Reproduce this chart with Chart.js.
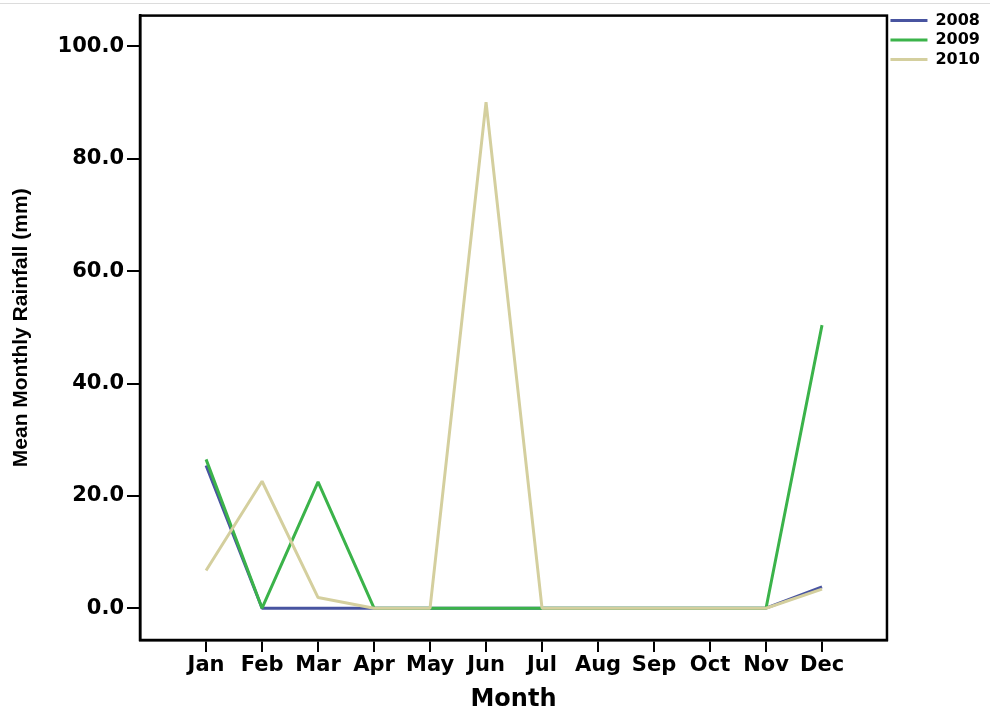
<!DOCTYPE html>
<html>
<head>
<meta charset="utf-8">
<script src="https://cdn.jsdelivr.net/npm/chart.js@4/dist/chart.umd.min.js"></script>
<style>
  html, body { margin: 0; padding: 0; background: #ffffff; }
  #wrap { width: 990px; height: 715px; position: relative; }
</style>
</head>
<body>
<div id="wrap"><canvas id="c" width="990" height="715"></canvas></div>
<script>
// Months on the x axis
const months = ['Jan', 'Feb', 'Mar', 'Apr', 'May', 'Jun', 'Jul', 'Aug', 'Sep', 'Oct', 'Nov', 'Dec'];

// Mean monthly rainfall (mm) per year
const rain2008 = [25.4, 0, 0, 0, 0, 0, 0, 0, 0, 0, 0, 3.8];
const rain2009 = [26.5, 0, 22.5, 0, 0, 0, 0, 0, 0, 0, 0, 50.4];
const rain2010 = [6.7, 22.6, 1.9, 0, 0, 90.1, 0, 0, 0, 0, 0, 3.4];

// Y axis tick values
const yTicks = [0, 20, 40, 60, 80, 100];

const toPoints = arr => arr.map((v, i) => ({ x: i, y: v }));

const WIDE = "'DejaVu Sans', Verdana, sans-serif";
const ARIAL = "'Liberation Sans', Arial, sans-serif";

// Black frame around the plotting area, faint rule across the top,
// and the legend nudged up into the top-right corner
const framePlugin = {
  id: 'frame',
  afterLayout(chart) {
    if (chart.legend) {
      chart.legend.top -= 3;
      chart.legend.bottom -= 3;
    }
  },
  beforeDraw(chart) {
    const ctx = chart.ctx;
    ctx.save();
    ctx.strokeStyle = '#dcdcdc';
    ctx.lineWidth = 1;
    ctx.beginPath();
    ctx.moveTo(0, 3.5);
    ctx.lineTo(chart.width, 3.5);
    ctx.stroke();
    ctx.restore();
  },
  afterDraw(chart) {
    const a = chart.chartArea;
    const ctx = chart.ctx;
    ctx.save();
    ctx.strokeStyle = '#000000';
    ctx.lineWidth = 2.5;
    ctx.strokeRect(a.left, a.top, a.right - a.left, a.bottom - a.top);
    ctx.restore();
  }
};

const lineStyle = { tension: 0, pointRadius: 0, pointHoverRadius: 0, borderWidth: 3, borderJoinStyle: 'bevel', fill: false };

new Chart(document.getElementById('c'), {
  type: 'line',
  data: {
    datasets: [
      Object.assign({ label: '2008', data: toPoints(rain2008), borderColor: '#4854a0', backgroundColor: '#4854a0', order: 2 }, lineStyle),
      Object.assign({ label: '2009', data: toPoints(rain2009), borderColor: '#3bb34a', backgroundColor: '#3bb34a', order: 1 }, lineStyle),
      Object.assign({ label: '2010', data: toPoints(rain2010), borderColor: '#d4cf9e', backgroundColor: '#d4cf9e', order: 0 }, lineStyle)
    ]
  },
  plugins: [framePlugin],
  options: {
    responsive: false,
    animation: false,
    layout: { padding: { top: 12, right: 0, bottom: 0, left: 0 } },
    plugins: {
      tooltip: { enabled: false },
      legend: {
        position: 'right',
        align: 'start',
        labels: {
          usePointStyle: true,
          pointStyle: 'line',
          pointStyleWidth: 37,
          padding: 3.5,
          color: '#000000',
          font: { family: WIDE, size: 16, weight: 'bold' },
          sort: (a, b) => a.datasetIndex - b.datasetIndex
        }
      }
    },
    scales: {
      x: {
        type: 'linear',
        min: -1.18,
        max: 12.16,
        afterBuildTicks(scale) { scale.ticks = months.map((m, i) => ({ value: i })); },
        afterFit(scale) { scale.height = 75; },
        border: { display: true, color: '#000000', width: 2.5 },
        grid: { drawOnChartArea: false, drawTicks: true, tickLength: 12, color: '#000000', lineWidth: 2 },
        ticks: {
          autoSkip: false,
          maxRotation: 0,
          padding: 1,
          color: '#000000',
          font: { family: WIDE, size: 21, weight: 'bold' },
          callback: v => months[v]
        },
        title: {
          display: true,
          text: 'Month',
          color: '#000000',
          padding: { top: 4, bottom: 1 },
          font: { family: WIDE, size: 24, weight: 'bold' }
        }
      },
      y: {
        min: -5.66,
        max: 105.5,
        afterBuildTicks(scale) { scale.ticks = yTicks.map(v => ({ value: v })); },
        afterFit(scale) { scale.width = 140; },
        border: { display: true, color: '#000000', width: 2.5 },
        grid: { drawOnChartArea: false, drawTicks: true, tickLength: 13, color: '#000000', lineWidth: 2 },
        ticks: {
          padding: 3,
          color: '#000000',
          font: { family: WIDE, size: 21, weight: 'bold' },
          callback: v => Number(v).toFixed(1)
        },
        title: {
          display: true,
          text: 'Mean Monthly Rainfall (mm)',
          color: '#000000',
          padding: { top: 9, bottom: 0 },
          font: { family: ARIAL, size: 21, weight: 'bold' }
        }
      }
    }
  }
});
</script>
</body>
</html>
